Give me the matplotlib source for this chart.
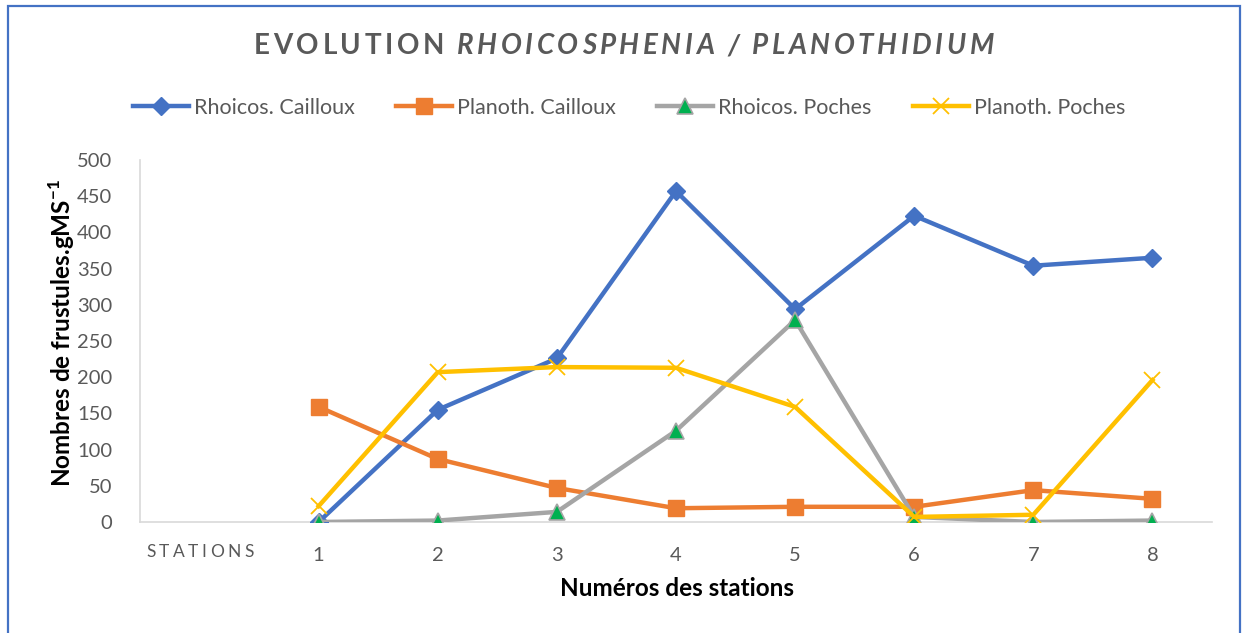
import numpy as np
import matplotlib
matplotlib.use('Agg')
import matplotlib.pyplot as plt
from matplotlib.patches import Rectangle

plt.rcParams['font.family'] = ['Lato', 'DejaVu Sans']
plt.rcParams['mathtext.fontset'] = 'custom'
plt.rcParams['mathtext.rm'] = 'Lato'
plt.rcParams['mathtext.bf'] = 'Lato:bold'

# data
categories = ['STATIONS', '1', '2', '3', '4', '5', '6', '7', '8']
stations = [1, 2, 3, 4, 5, 6, 7, 8]
rhoicos_cailloux = [0, 155, 226, 457, 294, 423, 354, 365]
planoth_cailloux = [159, 87, 47, 19, 21, 21, 44, 32]
rhoicos_poches = [0, 2, 14, 126, 279, 7, 0, 2]
planoth_poches = [22, 207, 214, 213, 159, 7, 10, 196]

W, H = 1242, 633
fig = plt.figure(figsize=(W/100, H/100), dpi=100)
ax = fig.add_axes([140/W, 1-522/H, (1212-140)/W, (522-160)/H])

lw = 3.2
ax.plot(stations, rhoicos_cailloux, color='#4472C4', lw=lw, marker='D', ms=9,
        label='Rhoicos. Cailloux')
ax.plot(stations, planoth_cailloux, color='#ED7D31', lw=lw, marker='s', ms=12,
        label='Planoth. Cailloux')
ax.plot(stations, rhoicos_poches, color='#A5A5A5', lw=lw, marker='^', ms=12,
        mfc='#00B050', mec='#A5A5A5', mew=1.2, label='Rhoicos. Poches')
ax.plot(stations, planoth_poches, color='#FFC000', lw=lw, marker='x', ms=12,
        mew=1.3, label='Planoth. Poches')

ax.set_xlim(-0.5, 8.5)
ax.set_ylim(0, 500)
ax.set_yticks(np.arange(0, 501, 50))
ax.set_xticks(range(len(categories)))
ax.set_xticklabels([''] + categories[1:])
ax.tick_params(length=0, labelsize=14.5, labelcolor='#595959')
ax.tick_params(axis='y', pad=20)
ax.tick_params(axis='x', pad=18)
for s in ['top', 'right']:
    ax.spines[s].set_visible(False)
for s in ['left', 'bottom']:
    ax.spines[s].set_color('#D9D9D9')
    ax.spines[s].set_linewidth(1.2)
ax.spines['left'].set_zorder(0)
ax.spines['bottom'].set_zorder(0)

renderer = fig.canvas.get_renderer()


def spaced(cx, cy, segments, gap, **kw):
    # draw letter-spaced text centred at pixel (cx, cy) from top-left
    chars = []
    for txt, style in segments:
        for ch in txt:
            if ch == ' ':
                w = kw['fontsize'] * 0.28
            else:
                t = fig.text(0, 0, ch, style=style, **kw)
                w = t.get_window_extent(renderer).width
                t.remove()
            chars.append((ch, style, w))
    total = sum(c[2] for c in chars) + gap * (len(chars) - 1)
    x = cx - total / 2
    for ch, style, w in chars:
        if ch != ' ':
            fig.text(x / W, 1 - cy / H, ch, style=style, ha='left', va='center', **kw)
        x += w + gap


spaced(624, 46, [('EVOLUTION ', 'normal'), ('RHOICOSPHENIA / PLANOTHIDIUM', 'italic')],
       3.6, fontsize=20, color='#595959', fontweight='bold')
spaced(200, 552, [('STATIONS', 'normal')], 3.5, fontsize=12.5, color='#595959')

fig.legend(loc='center', bbox_to_anchor=(629/W, 1-108/H), ncol=4, frameon=False,
           fontsize=15.5, handlelength=2.6, handletextpad=0.25, columnspacing=1.9,
           labelcolor='#595959')

fig.text(62/W, 1-333/H, r'Nombres de frustules.gMS$^{\mathbf{-1}}$', rotation=90,
         ha='center', va='center', fontsize=17.5, fontweight='bold', color='black')
fig.text(677/W, 1-588/H, 'Numéros des stations', ha='center', va='center',
         fontsize=17.5, fontweight='bold', color='black')

fig.patches.append(Rectangle((8/W, -0.05), (1240-8)/W, 1-6/H+0.05,
                             transform=fig.transFigure, fill=False,
                             edgecolor='#4472C4', lw=1.6))

fig.savefig('out.png', dpi=100)
